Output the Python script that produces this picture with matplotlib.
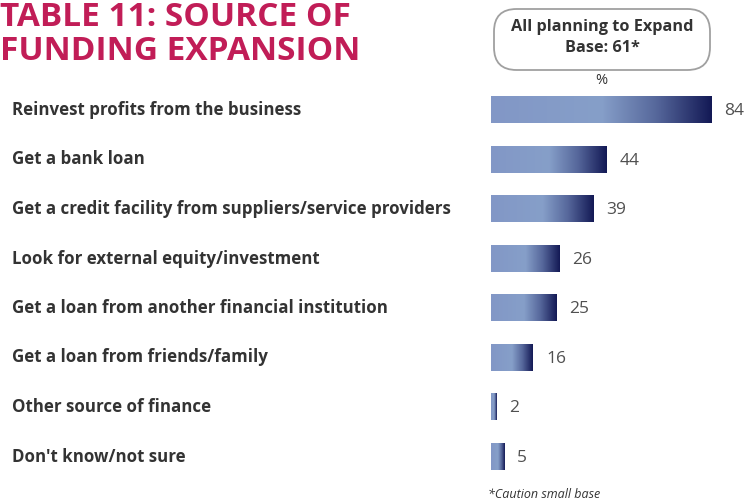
import numpy as np
import matplotlib.pyplot as plt
from matplotlib.colors import LinearSegmentedColormap
from matplotlib.patches import FancyBboxPatch
from matplotlib.transforms import blended_transform_factory

# Sources of funding and share of respondents (%)
categories = [
    "Reinvest profits from the business",
    "Get a bank loan",
    "Get a credit facility from suppliers/service providers",
    "Look for external equity/investment",
    "Get a loan from another financial institution",
    "Get a loan from friends/family",
    "Other source of finance",
    "Don't know/not sure",
]
values = [84, 44, 39, 26, 25, 16, 2, 5]

title_lines = ["TABLE 11: SOURCE OF", "FUNDING EXPANSION"]
base_text = ["All planning to Expand", "Base: 61*"]
footnote = "*Caution small base"

W, H = 752, 504
fig = plt.figure(figsize=(W / 100, H / 100), dpi=100)

# bar area: x starts at pixel 491, ~2.6 px per percentage point
x0, px_per_unit = 491, 2.62
ax = fig.add_axes([x0 / W, 0, (W - x0) / W, 1])
ax.set_xlim(0, (W - x0) / px_per_unit)
# row centres at 110 px + 49.5 px * i from top
ax.set_ylim((H - 110) / 49.5, -110 / 49.5)
ax.axis("off")

cmap = LinearSegmentedColormap.from_list(
    "bar", [(0, "#8297c6"), (0.5, "#869fc9"), (0.75, "#56679b"), (1.0, "#131955")])
grad = np.linspace(0, 1, 256).reshape(1, -1)
bar_h = 0.54

label_tr = blended_transform_factory(fig.transFigure, ax.transData)
for i, (cat, v) in enumerate(zip(categories, values)):
    ax.imshow(grad, cmap=cmap, aspect="auto", interpolation="bilinear",
              extent=[0, v, i + bar_h / 2, i - bar_h / 2], zorder=2)
    ax.text(v + 5, i + 0.03, str(v), va="center", ha="left", fontsize=12.5,
            color="#505050", family="Open Sans")
    ax.text(12 / W, i, cat, transform=label_tr, va="center", ha="left",
            fontsize=12.2, fontweight="bold", color="#333333", family="Open Sans")

ax.text(42, -0.44, "%", ha="center", va="bottom", fontsize=10.5, color="#333333",
        family="Open Sans")

# title
for k, line in enumerate(title_lines):
    fig.text(0, 1 - (17 + 34 * k) / H, line, ha="left", va="center",
             fontsize=24, fontweight="bold", color="#c11d57", family="Open Sans")

# base box
box = FancyBboxPatch((494 / W, 1 - 70 / H), 216 / W, 61 / H,
                     boxstyle="round,pad=0,rounding_size=0.03",
                     transform=fig.transFigure, facecolor="white",
                     edgecolor="#a0a0a0", linewidth=1.3, mutation_aspect=W / H)
fig.add_artist(box)
for k, line in enumerate(base_text):
    fig.text(602 / W, 1 - (27 + 21 * k) / H, line, ha="center", va="center",
             fontsize=11.7, fontweight="bold", color="#333333", family="Open Sans")

fig.text(488 / W, 1 - 494 / H, footnote, ha="left", va="center", fontsize=9,
         style="italic", color="#333333", family="Open Sans")

fig.savefig("out.png", dpi=100, facecolor="white")
